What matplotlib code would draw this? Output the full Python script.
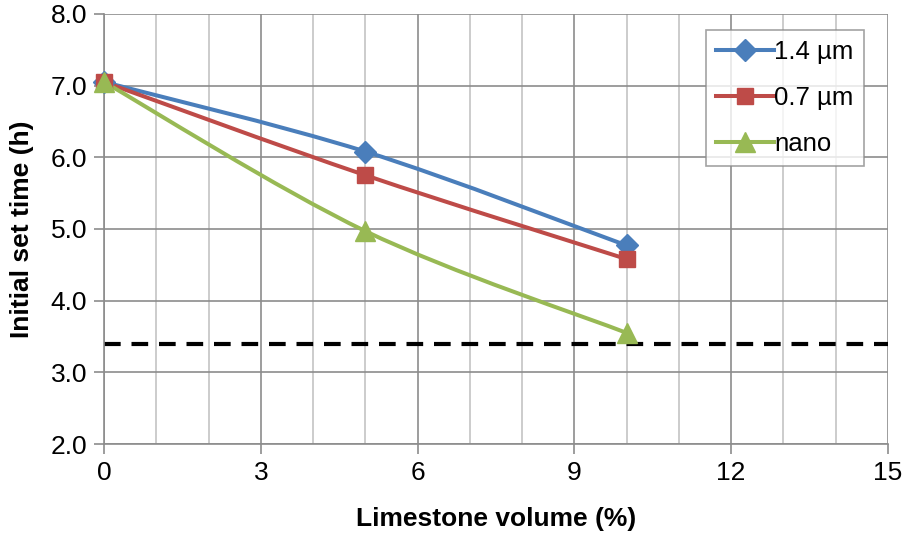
import matplotlib
matplotlib.use("Agg")
import matplotlib.pyplot as plt
from matplotlib.path import Path
from matplotlib.patches import PathPatch
from matplotlib.lines import Line2D
import numpy as np

plt.rcParams['font.family'] = ['Liberation Sans', 'DejaVu Sans']

x_vals = [0, 5, 10]
series_names = ["1.4 µm", "0.7 µm", "nano"]
y_14um = [7.05, 6.08, 4.77]
y_07um = [7.05, 5.75, 4.58]
y_nano = [7.05, 4.97, 3.55]
ref_level = 3.40
ref_x = [0, 15]

colors = ["#4A7EBB", "#BE4B48", "#98B954"]
markers = ["D", "s", "^"]
msizes = [11, 12, 14]

fig = plt.figure(figsize=(9.07, 5.36), dpi=100)
ax = fig.add_axes([0.1147, 0.1716, 0.979 - 0.1147, 0.974 - 0.1716])
ax.set_xlim(0, 15)
ax.set_ylim(2.0, 8.0)

# grid
ax.set_xticks(np.arange(0, 16, 3))
ax.set_xticks(np.arange(0, 16, 1), minor=True)
ax.set_yticks(np.arange(2.0, 8.01, 1.0))
ax.grid(which='major', color='#8C8C8C', linewidth=1.2, zorder=0)
ax.grid(which='minor', axis='x', color='#C4C4C4', linewidth=1.2, zorder=0)
ax.set_axisbelow(True)
ax.tick_params(which='minor', length=0)
ax.tick_params(which='major', length=7, width=1.2, color='#8C8C8C', labelsize=19, pad=5)
ax.set_yticklabels([f"{v:.1f}" for v in np.arange(2.0, 8.01, 1.0)])
for s in ['top', 'right']:
    ax.spines[s].set_visible(False)
for s in ['left', 'bottom']:
    ax.spines[s].set_color('#8C8C8C')
    ax.spines[s].set_linewidth(1.2)

# reference dashed line
ax.plot(ref_x, [ref_level, ref_level], color='black', linewidth=3, linestyle=(0, (4, 2.6)),
        dash_capstyle='butt', zorder=2)


def smooth_path(xs, ys):
    pts = np.column_stack([xs, ys]).astype(float)
    n = len(pts)
    verts = [pts[0]]
    codes = [Path.MOVETO]
    for i in range(n - 1):
        p0 = pts[i - 1] if i > 0 else pts[i]
        p1 = pts[i]
        p2 = pts[i + 1]
        p3 = pts[i + 2] if i + 2 < n else pts[i + 1]
        c1 = p1 + (p2 - p0) / 6.0
        c2 = p2 - (p3 - p1) / 6.0
        verts += [c1, c2, p2]
        codes += [Path.CURVE4] * 3
    return Path(verts, codes)


all_y = [y_14um, y_07um, y_nano]
handles = []
for ys, c, m, ms, name in zip(all_y, colors, markers, msizes, series_names):
    patch = PathPatch(smooth_path(x_vals, ys), facecolor='none', edgecolor=c,
                      linewidth=2.9, capstyle='round', joinstyle='round', zorder=3)
    ax.add_patch(patch)
    ax.plot(x_vals, ys, linestyle='none', marker=m, markersize=ms, color=c,
            markeredgecolor=c, zorder=4, clip_on=False)
    handles.append(Line2D([0], [0], color=c, linewidth=2.9, marker=m, markersize=ms,
                          markeredgecolor=c, label=name))

leg = ax.legend(handles=handles, loc='upper left', bbox_to_anchor=(0.768, 0.963),
                fontsize=18.5, frameon=True, fancybox=False, borderpad=0.4,
                handlelength=2.25, handletextpad=0.0, labelspacing=0.85, borderaxespad=0)
leg.get_frame().set_edgecolor('#8C8C8C')
leg.get_frame().set_linewidth(1.2)

ax.set_xlabel("Limestone volume (%)", fontsize=19, fontweight='bold', labelpad=16)
ax.set_ylabel("Initial set time (h)", fontsize=19, fontweight='bold', labelpad=12)

fig.savefig("out.png", dpi=100)
